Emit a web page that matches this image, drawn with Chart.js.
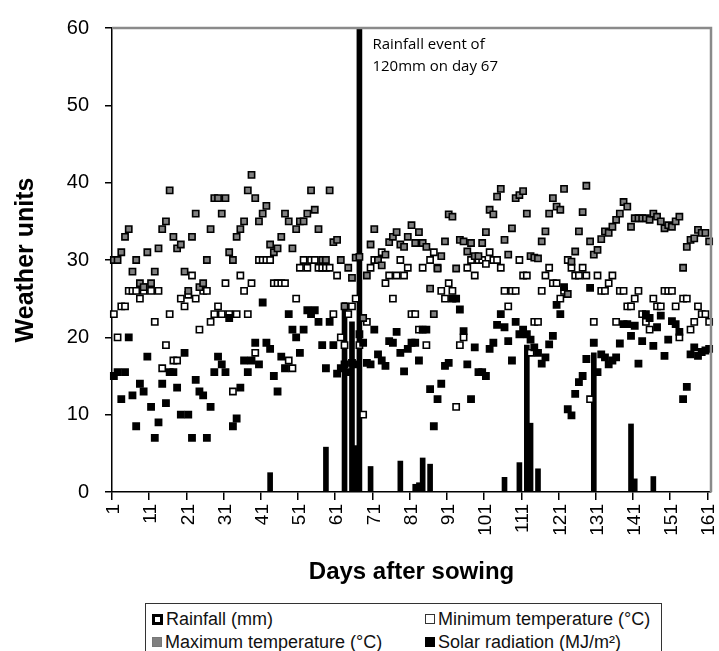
<!DOCTYPE html>
<html>
<head>
<meta charset="utf-8">
<script src="https://cdn.jsdelivr.net/npm/chart.js@4.4.1/dist/chart.umd.min.js"></script>
<style>
  html, body { margin: 0; padding: 0; background: #fff; overflow: hidden; }
  #wrap { position: relative; width: 719px; height: 651px; }
  #legend {
    position: absolute; left: 145px; top: 603px; width: 517px; height: 70px;
    border: 1px solid #333; box-sizing: border-box; background: #fff;
    font-family: "Liberation Sans", Arial, sans-serif; font-size: 18px; color: #111;
  }
  .item { position: absolute; display: flex; align-items: center; white-space: nowrap; height: 20px; }
  .swatch { display: inline-block; box-sizing: border-box; margin-right: 3px; }
</style>
</head>
<body>
<div id="wrap">
  <canvas id="weatherChart" width="719" height="651"></canvas>
  <div id="legend"></div>
</div>
<script>
// days after sowing, 1..161
const days = [];
for (let d = 1; d <= 161; d++) days.push(String(d));

// rainfall (mm) per day
const rainfall = [
  0, 0, 0, 0, 0, 0, 0, 0, 0, 0,
  0, 0, 0, 0, 0, 0, 0, 0, 0, 0,
  0, 0, 0, 0, 0, 0, 0, 0, 0, 0,
  0, 0, 0, 0, 0, 0, 0, 0, 0, 0,
  0, 0, 2.5, 0, 0, 0, 0, 0, 0, 0,
  0, 0, 0, 0, 0, 0, 0, 5.8, 0, 0,
  0, 0, 24.5, 0, 22, 6, 120, 0, 0, 3.3,
  0, 0, 0, 0, 0, 0, 0, 4, 0, 0,
  0, 1, 1.2, 4.4, 0, 3.6, 0, 0, 0, 0,
  0, 0, 0, 0, 0, 0, 0, 0, 0, 0,
  0, 0, 0, 0, 0, 1.9, 0, 0, 0, 3.8,
  0, 19, 8.9, 0, 3, 0, 0, 0, 0, 0,
  0, 0, 0, 0, 0, 0, 0, 0, 0, 18,
  0, 0, 0, 0, 0, 0, 0, 0, 0, 8.8,
  1.7, 0, 0, 0, 0, 2, 0, 0, 0, 0,
  0, 0, 0, 0, 0, 0, 0, 0, 0, 0,
  0
];

// minimum temperature (°C)
const minTemp = [
  23, 20, 24, 24, 26, 26, 26, 25, 26, 26.5,
  26, 22, 26, 16, 19, 23, 17, 17, 25, 24,
  25.5, 28, 25, 21, 26, 26, 22, 23, 24, 23,
  27, 23, 13, 23, 28, 26, 23, 27, 18, 30,
  30, 30, 30, 27, 27, 27, 27, 17, 16, 25,
  29, 30, 29, 30, 30, 29, 29, 29, 29, 23,
  28, 20, 19, 23, 24, 25, 19, 10, 22, 29,
  30, 30, 31, 27, 28, 25, 28, 30, 28, 29,
  23, 23, 21, 29, 19, 30, 31, 29, 26, 25,
  27, 26, 11, 19, 20, 29, 30, 28, 30, 30,
  29.5, 31, 30, 30, 29, 26, 24, 26, 26, 30,
  28, 28, 18, 22, 22, 26, 28, 29, 27, 27,
  25, 26, 30, 29, 28, 28, 29, 28, 12, 22,
  28, 26, 26, 27, 28, 22, 26, 26, 24, 24,
  25, 26, 23, 22, 21, 25, 24, 24, 26, 26,
  26, 24, 20, 25, 25, 21, 22, 24, 23, 23,
  22
];

// maximum temperature (°C)
const maxTemp = [
  30, 30, 31, 33, 34, 28.5, 30, 27, 26.5, 31,
  27, 28.5, 31.5, 34, 35, 39, 33, 31.5, 32, 28.5,
  26, 33, 36, 26.5, 27, 30, 34, 38, 38, 36,
  38, 31, 30, 33, 34, 35, 39, 41, 38, 35,
  36, 37, 32, 31, 31.5, 33, 36, 35, 31.5, 34,
  35, 35, 36, 39, 36.5, 34, 30, 30, 39, 32.3,
  32.6, 30, 24, 29, 27.7, 30.3, 30.4, 22.5, 28, 32,
  34, 30, 29.3, 30.7, 32.3, 33, 33.6, 32, 31.7, 33,
  34.5, 32.2, 33.6, 32.2, 31.7, 26.3, 23, 28.9, 30.5, 32.4,
  35.9, 35.6, 28.9, 32.6, 32.4, 31.1, 32.2, 30.5, 30.5, 32.2,
  33.6, 36.5, 35.9, 38.2, 39.2, 32.6, 30.7, 34.1, 38, 38.4,
  38.9, 36, 30.5, 30.3, 30.2, 32.4, 33.7, 36, 38, 36.9,
  36.5, 39.2, 25.6, 29.8, 31.1, 33.7, 36.2, 39.6, 32.4, 30.7,
  31.3, 32.7, 33.7, 33.5, 34.3, 35.2, 36, 37.5, 36.9, 34.3,
  35.4, 35.4, 35.4, 35.4, 35.2, 36, 35.6, 35, 34.1, 34.5,
  34.3, 35, 35.6, 29, 31.7, 32.6, 32.8, 33.9, 33.5, 33.5,
  32.4
];

// solar radiation (MJ/m²)
const solarRad = [
  15, 15.5, 12, 15.5, 20, 12.5, 8.5, 14, 13, 17.5,
  11, 7, 9, 14, 11.5, 15.5, 15.5, 13.5, 10, 18,
  10, 7, 14.5, 13, 12.5, 7, 11, 15.5, 17.5, 16.5,
  15.5, 22.5, 8.5, 9.5, 13.5, 17, 15.5, 17, 19.3, 16.5,
  24.5, 19.3, 18.5, 15, 13, 17.5, 16, 23, 21, 20,
  18, 21, 23.5, 23, 23.5, 22, 19, 16, 22, 19,
  15.3, 16, 16.5, 15.5, 16.7, 16.5, 20.4, 19.3, 16.7, 16.5,
  21, 17.8, 17, 16.3, 19.5, 19.3, 20.7, 18, 15.6, 18.5,
  19.3, 19.3, 17, 21, 21, 13.3, 8.5, 12, 14, 16.3,
  16.7, 25, 25, 23.6, 20.8, 16.5, 12, 18.7, 15.5, 15.5,
  15, 18.5, 19.3, 21.6, 23, 21.3, 19.5, 17, 22, 20.4,
  21, 20.4, 19.7, 18.7, 18, 16.6, 17.4, 19.1, 20.2, 24.2,
  23, 26.5, 10.7, 9.9, 12.7, 14.2, 15, 17.2, 26.4, 19.3,
  15.5, 17.8, 17.4, 16.5, 17, 17.4, 19.2, 21.7, 21.7, 20.2,
  21.5, 16.6, 19.5, 23, 22.5, 18.9, 21.3, 22.8, 17.6, 19.7,
  22.1, 21.7, 20.7, 12, 13.6, 17.8, 18.7, 17.6, 18.1, 18.3,
  18.5
];

const yTicks = [0, 10, 20, 30, 40, 50, 60];
const noteLines = ['Rainfall event of', '120mm on day 67'];
const noteDay = 67;

const axisFont = { family: 'Liberation Sans', size: 19 };
const titleFont = { family: 'Liberation Sans', size: 24, weight: 'bold' };

// gray frame on top/right plus the rainfall note
const frameAndNote = {
  id: 'frameAndNote',
  afterDatasetsDraw(chart) {
    const { ctx, chartArea: a } = chart;
    ctx.save();
    ctx.strokeStyle = '#8a8a8a';
    ctx.lineWidth = 2.5;
    ctx.beginPath();
    ctx.moveTo(a.left, a.top);
    ctx.lineTo(a.right, a.top);
    ctx.lineTo(a.right, a.bottom);
    ctx.stroke();

    const x = chart.scales.x.getPixelForValue(noteDay - 1) + 13;
    ctx.fillStyle = '#000';
    ctx.font = '15px "Open Sans"';
    ctx.textBaseline = 'middle';
    ctx.fillText(noteLines[0], x, a.top + 17);
    ctx.fillText(noteLines[1], x, a.top + 39);
    ctx.restore();
  }
};

const pointSet = (label, data, fill, order) => ({
  type: 'line',
  label: label,
  data: data,
  showLine: false,
  pointStyle: 'rect',
  pointRadius: 4.4,
  pointBackgroundColor: fill,
  pointBorderColor: '#000',
  pointBorderWidth: 1.6,
  order: order,
  clip: false
});

const chart = new Chart(document.getElementById('weatherChart'), {
  type: 'bar',
  data: {
    labels: days,
    datasets: [
      {
        type: 'bar',
        label: 'Rainfall (mm)',
        data: rainfall,
        backgroundColor: '#000',
        barThickness: 5,
        order: 4,
        clip: 0
      },
      pointSet('Minimum temperature (°C)', minTemp, '#fff', 3),
      pointSet('Maximum temperature (°C)', maxTemp, '#808080', 2),
      pointSet('Solar radiation (MJ/m²)', solarRad, '#000', 1)
    ]
  },
  options: {
    responsive: false,
    animation: false,
    events: [],
    layout: { padding: { top: 25, right: 8, bottom: 0, left: 0 } },
    plugins: {
      legend: { display: false },
      tooltip: { enabled: false }
    },
    scales: {
      x: {
        offset: true,
        grid: {
          offset: true,
          drawOnChartArea: false,
          tickLength: 8,
          lineWidth: 1.5,
          color: ctx => (ctx.index % 10 === 0 ? '#000' : 'rgba(0,0,0,0)')
        },
        border: { color: '#000', width: 1.5 },
        ticks: {
          autoSkip: false,
          minRotation: 90,
          maxRotation: 90,
          padding: 4,
          color: '#000',
          font: axisFont,
          callback: function (val, index) {
            return index % 10 === 0 ? this.getLabelForValue(val) : '';
          }
        },
        title: {
          display: true,
          text: 'Days after sowing',
          color: '#000',
          font: titleFont,
          padding: { top: 0, bottom: 64 }
        },
        afterFit: s => { s.height = 159; s.paddingLeft = 0; s.paddingRight = 0; }
      },
      y: {
        min: 0,
        max: 60,
        grid: { drawOnChartArea: false, tickLength: 7, lineWidth: 1.5, color: '#000' },
        border: { color: '#000', width: 1.5 },
        afterBuildTicks: s => { s.ticks = yTicks.map(v => ({ value: v })); },
        ticks: { padding: 16, color: '#000', font: { family: 'Liberation Sans', size: 20 } },
        title: {
          display: true,
          text: 'Weather units',
          color: '#000',
          font: { family: 'Liberation Sans', size: 25, weight: 'bold' },
          padding: { top: 11, bottom: 0 }
        },
        afterFit: s => { s.width = 112; }
      }
    }
  },
  plugins: [frameAndNote]
});

// legend laid out in two columns, two rows
const swatches = [
  { bg: '#fff', border: '3px solid #000', size: 11 },
  { bg: '#fff', border: '1px solid #333', size: 10 },
  { bg: '#808080', border: '1px solid #777', size: 10 },
  { bg: '#000', border: '1px solid #000', size: 10 }
];
const legendOrder = [0, 1, 2, 3];
const colX = [6, 279];
const rowY = [5, 28];
const legendEl = document.getElementById('legend');
legendOrder.forEach((dsIndex, i) => {
  const ds = chart.data.datasets[dsIndex];
  const sw = swatches[dsIndex];
  const item = document.createElement('div');
  item.className = 'item';
  item.style.left = colX[i % 2] + 'px';
  item.style.top = rowY[Math.floor(i / 2)] + 'px';
  const box = document.createElement('span');
  box.className = 'swatch';
  box.style.width = sw.size + 'px';
  box.style.height = sw.size + 'px';
  box.style.background = sw.bg;
  box.style.border = sw.border;
  const text = document.createElement('span');
  text.textContent = ds.label;
  item.appendChild(box);
  item.appendChild(text);
  legendEl.appendChild(item);
});
</script>
</body>
</html>
